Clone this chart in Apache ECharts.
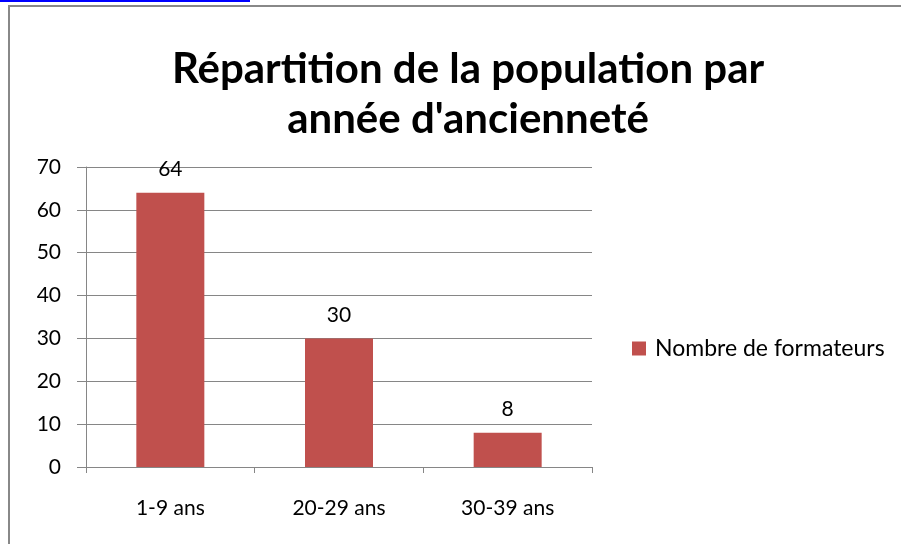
<!DOCTYPE html>
<html>
<head>
<meta charset="utf-8">
<script src="https://cdn.jsdelivr.net/npm/echarts@6/dist/echarts.min.js"></script>
<style>
  html, body { margin: 0; padding: 0; background: #fff; }
  #chart { width: 901px; height: 544px; }
</style>
</head>
<body>
<div id="chart"></div>
<script>
// données
var categories = ['1-9 ans', '20-29 ans', '30-39 ans'];
var formateurs = [64, 30, 8];
var yTicks = [0, 10, 20, 30, 40, 50, 60, 70];

var chart = echarts.init(document.getElementById('chart'));

chart.setOption({
  animation: false,
  backgroundColor: '#fff',
  title: {
    text: 'Répartition de la population par\nannée d\'ancienneté',
    left: 463,
    textAlign: 'center',
    top: 39,
    textStyle: {
      fontFamily: 'Lato',
      fontWeight: 'bold',
      fontSize: 42,
      lineHeight: 50,
      color: '#000'
    }
  },
  legend: {
    data: ['Nombre de formateurs'],
    orient: 'vertical',
    left: 627,
    top: 332,
    itemWidth: 14,
    itemHeight: 14,
    itemGap: 8,
    icon: 'rect',
    textStyle: { fontFamily: 'Lato', fontSize: 23, color: '#000', padding: [0, 0, 0, 4] }
  },
  grid: { left: 86, right: 309, top: 167, bottom: 77 },
  xAxis: {
    type: 'category',
    data: categories,
    axisLine: { lineStyle: { color: '#868686' } },
    axisTick: { show: true, length: 6, lineStyle: { color: '#868686' } },
    axisLabel: { fontFamily: 'Lato', fontSize: 21, color: '#000', margin: 31 }
  },
  yAxis: {
    type: 'value',
    min: yTicks[0],
    max: yTicks[yTicks.length - 1],
    interval: 10,
    axisLine: { show: true, lineStyle: { color: '#868686' } },
    axisTick: { show: true, length: 9, lineStyle: { color: '#868686' } },
    axisLabel: { fontFamily: 'Lato', fontSize: 21, color: '#000', margin: 25 },
    splitLine: { lineStyle: { color: '#868686' } }
  },
  series: [{
    name: 'Nombre de formateurs',
    type: 'bar',
    data: formateurs,
    barWidth: 68,
    itemStyle: { color: '#C0504D' },
    label: {
      show: true,
      position: 'top',
      distance: 13,
      fontFamily: 'Lato',
      fontSize: 21,
      color: '#000'
    }
  }],
  graphic: [
    { type: 'line', shape: { x1: 0, y1: 1, x2: 250, y2: 1 }, style: { stroke: '#0000ff', lineWidth: 2 } },
    { type: 'line', shape: { x1: 8, y1: 6, x2: 901, y2: 6 }, style: { stroke: '#888', lineWidth: 2 } },
    { type: 'line', shape: { x1: 9, y1: 6, x2: 9, y2: 544 }, style: { stroke: '#888', lineWidth: 2 } }
  ]
});
</script>
</body>
</html>
